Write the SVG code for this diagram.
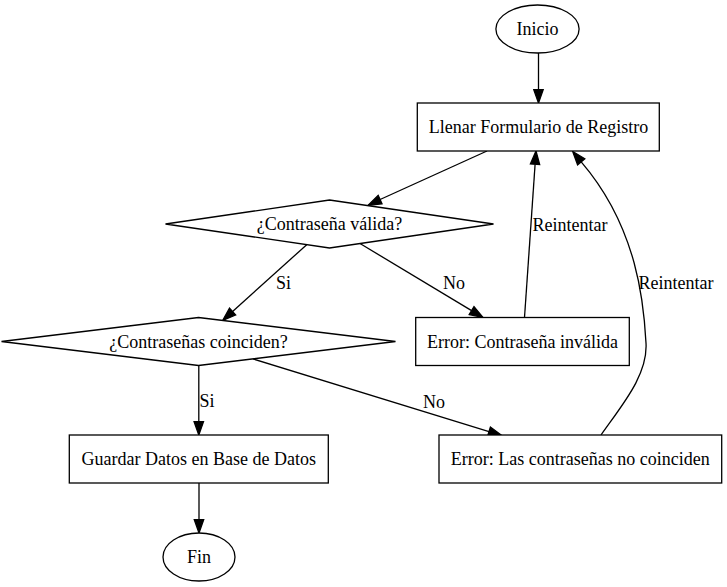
<svg xmlns="http://www.w3.org/2000/svg" width="727" height="587" viewBox="0 0 727 587">
<style>
.n{fill:#fff;stroke:#000;stroke-width:1.3}
.e{fill:none;stroke:#000;stroke-width:1.3}
.a{fill:#000;stroke:#000;stroke-width:1.3}
.t{font-family:'Liberation Serif','DejaVu Serif',serif;font-size:18px;fill:#000;text-anchor:middle}
</style>
<rect width="727" height="587" fill="#fff"/>
<g font-family="Liberation Serif, DejaVu Serif, serif">
<g id="edges">
<g id="e_inicio_llenar"><path class="e" d="M538.5,53 L538.5,90"/><polygon class="a" points="533.8,89.7 538.5,103 543.2,89.7"/></g>
<g id="e_llenar_valida"><path class="e" d="M487,151 L380.1,199.5"/><polygon class="a" points="382,203.8 368,205.5 378.2,195.3"/></g>
<g id="e_valida_coinciden"><path class="e" d="M306.7,244.7 L232.6,311.5"/><polygon class="a" points="235.7,315 222.7,320.4 229.5,308"/><text class="t" x="283.5" y="289">Si</text></g>
<g id="e_valida_errinv"><path class="e" d="M360,243.5 L471.6,310.6"/><polygon class="a" points="469.2,314.6 483,317.5 474,306.6"/><text class="t" x="454" y="289">No</text></g>
<g id="e_errinv_llenar"><path class="e" d="M524.5,317.5 L535.1,164.3"/><polygon class="a" points="539.7,164.6 536,151 530.4,164"/><text class="t" x="570" y="231">Reintentar</text></g>
<g id="e_errcoin_llenar"><path class="e" d="M601,435 C622,405 648,375 646,343 C644,305 638,228 581.2,161.8"/><polygon class="a" points="584.8,158.8 572.7,151.5 577.6,164.8"/><text class="t" x="676" y="289">Reintentar</text></g>
<g id="e_coinciden_guardar"><path class="e" d="M198.8,365.5 L198.8,421.7"/><polygon class="a" points="194.1,421.7 198.8,435 203.5,421.7"/><text class="t" x="207" y="407">Si</text></g>
<g id="e_coinciden_errcoin"><path class="e" d="M253,358.9 L489,431.6"/><polygon class="a" points="487.6,436.1 501.7,435.5 490.4,427.1"/><text class="t" x="434" y="408">No</text></g>
<g id="e_guardar_fin"><path class="e" d="M199,483 L199,519.7"/><polygon class="a" points="194.3,519.7 199,533 203.7,519.7"/></g>
</g>
<g id="inicio"><ellipse class="n" cx="537.5" cy="29" rx="41.6" ry="24"/><text class="t" x="537.5" y="35">Inicio</text></g>
<g id="llenar"><rect class="n" x="417.3" y="103" width="242" height="48"/><text class="t" x="538.5" y="133">Llenar Formulario de Registro</text></g>
<g id="valida"><polygon class="n" points="329.5,200 493.5,224 329.5,248 165.5,224"/><text class="t" x="329.5" y="230">¿Contraseña válida?</text></g>
<g id="coinciden"><polygon class="n" points="198.5,317.5 395.5,341.5 198.5,365.5 1.5,341.5"/><text class="t" x="198.5" y="347.5">¿Contraseñas coinciden?</text></g>
<g id="errinv"><rect class="n" x="415.7" y="317.5" width="213.6" height="48"/><text class="t" x="522.5" y="347.5">Error: Contraseña inválida</text></g>
<g id="guardar"><rect class="n" x="69.3" y="435" width="259" height="48"/><text class="t" x="198.8" y="465">Guardar Datos en Base de Datos</text></g>
<g id="errcoin"><rect class="n" x="439" y="435" width="282.7" height="48"/><text class="t" x="580.3" y="465">Error: Las contraseñas no coinciden</text></g>
<g id="fin"><ellipse class="n" cx="199" cy="557" rx="36" ry="24"/><text class="t" x="199" y="563">Fin</text></g>
</g>
</svg>
